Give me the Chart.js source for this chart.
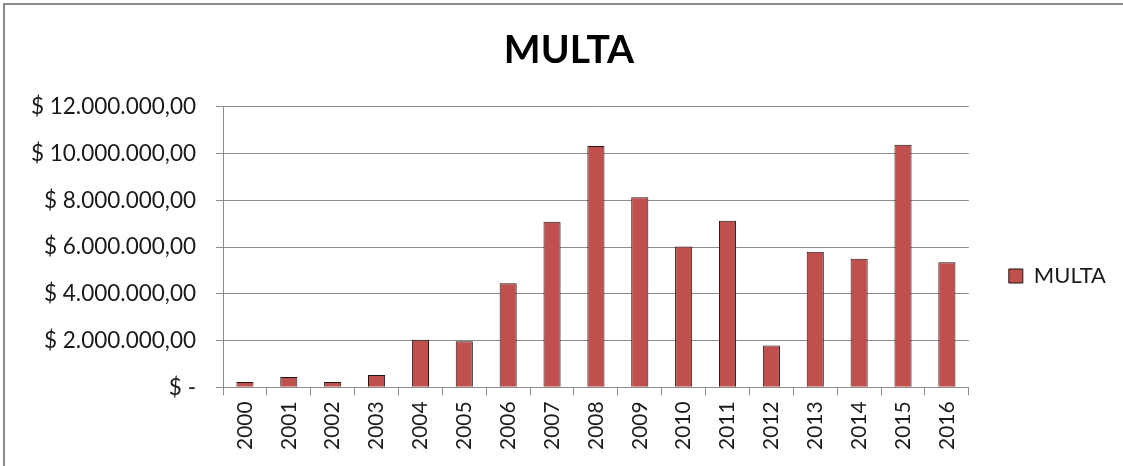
<!DOCTYPE html>
<html>
<head>
<meta charset="utf-8">
<script src="https://cdn.jsdelivr.net/npm/chart.js@4"></script>
<style>
  html, body { margin: 0; padding: 0; background: #fff; overflow: hidden; }
  #wrap { position: relative; width: 1123px; height: 466px; }
  #frame { position: absolute; left: 3px; top: 3px; width: 1140px; height: 480px;
           border-left: 2px solid #8a8a8a; border-top: 2px solid #8a8a8a; pointer-events: none; }
</style>
</head>
<body>
<div id="wrap">
  <canvas id="myChart" width="1123" height="466"></canvas>
  <div id="frame"></div>
</div>
<script>

const years = ['2000', '2001', '2002', '2003', '2004', '2005', '2006', '2007', '2008',
  '2009', '2010', '2011', '2012', '2013', '2014', '2015', '2016'];

// multa values
const multa = [230000, 440000, 230000, 530000, 2030000, 1970000, 4450000, 7080000, 10320000,
  8130000, 6020000, 7130000, 1790000, 5800000, 5500000, 10380000, 5350000];

const yTicks = [0, 2000000, 4000000, 6000000, 8000000, 10000000, 12000000];

function money(v) {
  if (v === 0) return '$ -';
  let s = String(Math.round(v));
  s = s.replace(/\B(?=(\d{3})+(?!\d))/g, '.');
  return '$ ' + s + ',00';
}

// nudge legend + title a bit, like the excel layout
const nudge = {
  id: 'nudge',
  afterLayout(chart) {
    const lg = chart.legend;
    if (lg) {
      const dx = chart.chartArea.right + 30 - lg.left;
      lg.left += dx; lg.right += dx;
      lg.top += 48; lg.bottom += 48;
    }
    const tb = chart.titleBlock;
    if (tb) {
      const c = (tb.left + tb.right) / 2;
      const dt = 569 - c;
      tb.left += dt; tb.right += dt;
    }
  }
};

const data = {
  labels: years,
  datasets: [{
    label: 'MULTA',
    data: multa,
    backgroundColor: '#C0504D',
    borderColor: '#1f1414',
    borderWidth: 1,
    barPercentage: 0.39,
    categoryPercentage: 1.0
  }]
};

const config = {
  type: 'bar',
  data: data,
  plugins: [nudge],
  options: {
    responsive: false,
    animation: false,
    layout: { padding: { left: 0, right: 37, top: 0, bottom: 10 } },
    plugins: {
      title: {
        display: true,
        text: 'MULTA',
        color: '#000',
        font: { family: 'Lato', size: 39, weight: 'bold' },
        padding: { top: 27, bottom: 33 }
      },
      legend: {
        position: 'right',
        labels: {
          color: '#1a1a1a',
          font: { family: 'Lato', size: 22 },
          boxWidth: 14,
          boxHeight: 14,
          padding: 10
        }
      },
      tooltip: { enabled: false }
    },
    scales: {
      x: {
        grid: { drawOnChartArea: false, color: '#8c8c8c', tickLength: 8 },
        border: { color: '#8c8c8c' },
        ticks: {
          color: '#1a1a1a',
          font: { family: 'Lato', size: 21 },
          minRotation: 90,
          maxRotation: 90,
          padding: 6
        }
      },
      y: {
        min: 0,
        max: 12000000,
        afterBuildTicks: (axis) => { axis.ticks = yTicks.map(v => ({ value: v })); },
        afterFit: (axis) => { axis.width = 223; },
        grid: { color: '#8c8c8c', tickLength: 7 },
        border: { color: '#8c8c8c' },
        ticks: {
          color: '#1a1a1a',
          font: { family: 'Lato', size: 22.5 },
          padding: 20,
          callback: (v) => money(v)
        }
      }
    }
  }
};

const myChart = new Chart(document.getElementById('myChart'), config);
</script>
</body>
</html>
